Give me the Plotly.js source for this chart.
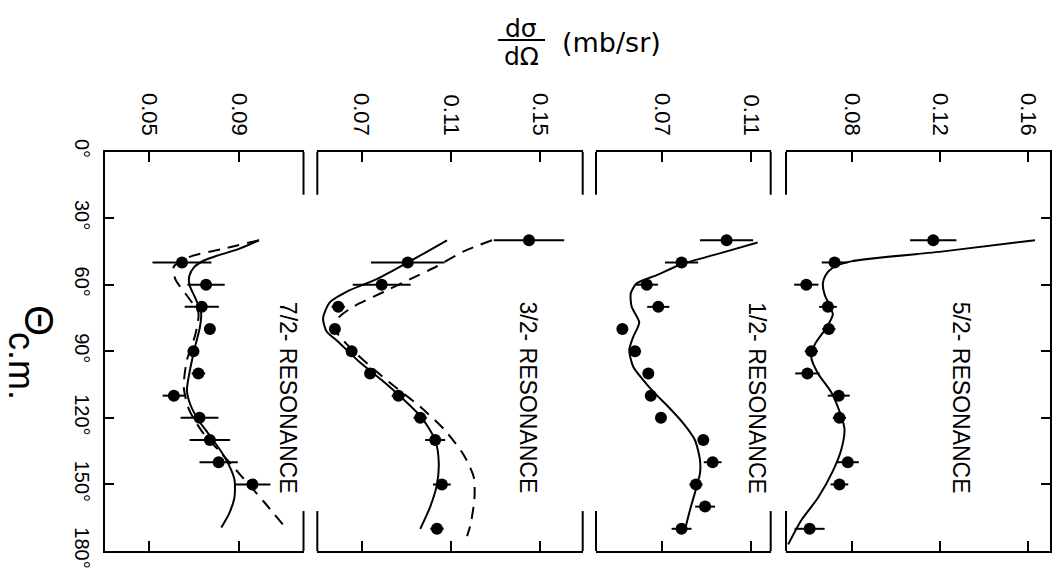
<!DOCTYPE html>
<html>
<head>
<meta charset="utf-8">
<script src="https://cdn.plot.ly/plotly-3.0.1.min.js"></script>
<style>
  html, body { margin: 0; padding: 0; background: #fff; }
  #chart { width: 1054px; height: 583px; }
</style>
</head>
<body>
<div id="chart"></div>
<script>
// Differential cross sections dσ/dΩ (mb/sr) versus centre-of-mass angle,
// compared with single-resonance fits (solid) and alternative fits (dashed).

// ---- angle axis ----
const angleTicks  = [0, 30, 60, 90, 120, 150, 180];
const angleLabels = ['0°', '30°', '60°', '90°', '120°', '150°', '180°'];

// ---- 5/2- resonance ----
const ticks52   = [0.08, 0.12, 0.16];
const angle52   = [40, 50, 60, 70, 80, 90, 100, 110, 120, 140, 150, 170];
const xs52      = [0.1169, 0.0722, 0.0594, 0.0692, 0.0696, 0.0617, 0.0599, 0.0741, 0.0744, 0.0782, 0.0744, 0.0609];
const err52     = [0.0105, 0.0058, 0.0055, 0.0040, 0.0030, 0.0030, 0.0055, 0.0050, 0.0030, 0.0050, 0.0040, 0.0068];
const fitAng52  = [40, 45, 49.5, 52.5, 56, 59.5, 64.5, 69, 73.5, 79.5, 87, 93, 100, 108.5, 117, 125, 134.5, 144, 156, 166, 177];
const fitVal52  = [0.163, 0.1215, 0.0797, 0.0712, 0.0680, 0.0669, 0.0677, 0.0698, 0.0714, 0.0684, 0.0632, 0.0617, 0.0647, 0.0707, 0.0744, 0.0767, 0.0752, 0.0714, 0.0647, 0.0572, 0.0512];

// ---- 1/2- resonance ----
const ticks12   = [0.07, 0.11];
const angle12   = [40, 50, 60, 70, 80, 90, 100, 110, 120, 130, 140, 150, 160, 170];
const xs12      = [0.0990, 0.0787, 0.0630, 0.0682, 0.0520, 0.0577, 0.0637, 0.0648, 0.0694, 0.0885, 0.0927, 0.0852, 0.0893, 0.0787];
const err12     = [0.0120, 0.0075, 0.0050, 0.0050, 0.0020, 0.0020, 0.0020, 0.0020, 0.0020, 0.0020, 0.0040, 0.0030, 0.0045, 0.0045];
const fitAng12  = [41, 46, 50.8, 55.7, 59.4, 63.9, 70, 77, 83.5, 89.5, 97, 103, 109, 115, 122.5, 130, 139, 145, 151, 161.5, 170.5];
const fitVal12  = [0.113, 0.0955, 0.0787, 0.0675, 0.0585, 0.0558, 0.0562, 0.0596, 0.0569, 0.0551, 0.0569, 0.0614, 0.0667, 0.0727, 0.0795, 0.0847, 0.0870, 0.0870, 0.0855, 0.0825, 0.0802];

// ---- 3/2- resonance ----
const ticks32   = [0.07, 0.11, 0.15];
const angle32   = [40, 50, 60, 70, 80, 90, 100, 110, 120, 130, 150, 170];
const xs32      = [0.1451, 0.0907, 0.0790, 0.0595, 0.0580, 0.0655, 0.0738, 0.0865, 0.0963, 0.1030, 0.1060, 0.1038];
const err32     = [0.0158, 0.0165, 0.0130, 0.0030, 0.0020, 0.0020, 0.0020, 0.0030, 0.0030, 0.0045, 0.0040, 0.0030];
const fitAng32  = [40, 50, 57.5, 62.5, 68, 75, 81, 85, 95, 103, 111, 120, 130, 140, 150, 160, 170];
const fitVal32  = [0.1083, 0.0907, 0.0768, 0.0647, 0.0557, 0.0527, 0.0542, 0.0587, 0.0692, 0.0790, 0.0880, 0.0970, 0.1030, 0.1046, 0.1038, 0.1008, 0.0963];
const altAng32  = [40, 45, 51.7, 57.5, 63.3, 70, 75, 80, 86.7, 96.7, 106.7, 115, 125, 136.7, 146.7, 156.7, 168.3, 173.3];
const altVal32  = [0.1285, 0.1158, 0.1038, 0.0918, 0.0798, 0.0662, 0.0595, 0.0580, 0.0632, 0.0738, 0.0858, 0.0963, 0.1068, 0.1158, 0.1203, 0.1206, 0.1188, 0.1173];

// ---- 7/2- resonance ----
const ticks72   = [0.05, 0.09];
const angle72   = [50, 60, 70, 80, 90, 100, 110, 120, 130, 140, 150];
const xs72      = [0.0645, 0.0752, 0.0733, 0.0769, 0.0696, 0.0718, 0.0609, 0.0723, 0.0769, 0.0808, 0.0958];
const err72     = [0.0131, 0.0083, 0.0076, 0.0020, 0.0020, 0.0030, 0.0050, 0.0084, 0.0090, 0.0085, 0.0080];
const fitAng72  = [40, 44, 47, 49, 52, 56, 60, 66, 72.6, 79, 87.6, 97.7, 107.7, 114, 121, 129, 137.7, 147.7, 156, 162.8, 169.4];
const fitVal72  = [0.0987, 0.0895, 0.0800, 0.0745, 0.0700, 0.0678, 0.0678, 0.0704, 0.0730, 0.0725, 0.0704, 0.0682, 0.0667, 0.0682, 0.0718, 0.0776, 0.0835, 0.0878, 0.0878, 0.0856, 0.0820];
const altAng72  = [40, 44, 47.6, 51.8, 57.6, 66, 72.6, 82.6, 94, 106, 116, 126, 136, 146, 157.8, 169.4];
const altVal72  = [0.0987, 0.0820, 0.0675, 0.0609, 0.0616, 0.0675, 0.0718, 0.0704, 0.0667, 0.0653, 0.0675, 0.0733, 0.0820, 0.0907, 0.1009, 0.1104];

const panelNames = ['7/2- RESONANCE', '3/2- RESONANCE', '1/2- RESONANCE', '5/2- RESONANCE'];

// ---- page geometry ----
const W = 1054, H = 583;
const fx = p => p / W;
const fy = p => 1 - p / H;
const yDomain = [fy(551), fy(151.5)];
const xDomains = [
  [fx(105), fx(303.5)],
  [fx(317.3), fx(582.7)],
  [fx(596), fx(770.7)],
  [fx(786), fx(1050)]
];
const xRanges = [
  [0.0303, 0.1185],
  [0.0501, 0.1692],
  [0.0401, 0.1189],
  [0.0502, 0.1698]
];
const tickSets = [ticks72, ticks32, ticks12, ticks52];

const INK = '#000';
const FONT = 'Liberation Sans, Arial, Helvetica, sans-serif';
const HEAD_FONT = 'DejaVu Sans, sans-serif';

function dataTrace(axisIdx, ang, vals, errs) {
  const s = axisIdx === 1 ? '' : String(axisIdx);
  return {
    type: 'scatter', mode: 'markers', x: vals, y: ang,
    xaxis: 'x' + s, yaxis: 'y' + s,
    marker: { size: 12, color: INK },
    error_x: { type: 'data', array: errs, visible: true, color: INK, thickness: 2, width: 0 },
    hoverinfo: 'skip', showlegend: false
  };
}
function curveTrace(axisIdx, ang, vals, dashed) {
  const s = axisIdx === 1 ? '' : String(axisIdx);
  return {
    type: 'scatter', mode: 'lines', x: vals, y: ang,
    xaxis: 'x' + s, yaxis: 'y' + s,
    line: { color: INK, width: 2, shape: 'spline', smoothing: 0.7, dash: dashed ? '12px,8px' : 'solid' },
    hoverinfo: 'skip', showlegend: false
  };
}

const traces = [
  curveTrace(1, altAng72, altVal72, true),
  curveTrace(1, fitAng72, fitVal72, false),
  dataTrace(1, angle72, xs72, err72),
  curveTrace(2, altAng32, altVal32, true),
  curveTrace(2, fitAng32, fitVal32, false),
  dataTrace(2, angle32, xs32, err32),
  curveTrace(3, fitAng12, fitVal12, false),
  dataTrace(3, angle12, xs12, err12),
  curveTrace(4, fitAng52, fitVal52, false),
  dataTrace(4, angle52, xs52, err52)
];

const layout = {
  width: W, height: H,
  margin: { l: 0, r: 0, t: 0, b: 0 },
  paper_bgcolor: '#fff', plot_bgcolor: 'rgba(0,0,0,0)',
  font: { family: FONT, color: INK },
  showlegend: false,
  shapes: [],
  annotations: []
};

for (let i = 0; i < 4; i++) {
  const s = i === 0 ? '' : String(i + 1);
  const ticks = tickSets[i];
  layout['xaxis' + s] = {
    domain: xDomains[i], range: xRanges[i], anchor: 'y' + s, side: 'top',
    showline: true, linewidth: 2, linecolor: INK, mirror: 'ticks',
    ticks: 'inside', ticklen: 10, tickwidth: 2, tickcolor: INK,
    tickvals: ticks, ticktext: ticks.map(v => v.toFixed(2)),
    tickangle: 90, tickfont: { size: 22, color: INK, family: FONT },
    ticklabelstandoff: 6,
    showgrid: false, zeroline: false, fixedrange: true
  };
  const ya = {
    domain: yDomain, range: [180, 0], anchor: 'x' + s,
    showgrid: false, zeroline: false, fixedrange: true
  };
  if (i === 0) {
    Object.assign(ya, {
      side: 'left', showline: true, linewidth: 2, linecolor: INK,
      ticks: 'inside', ticklen: 9, tickwidth: 2, tickcolor: INK,
      tickvals: angleTicks, ticktext: angleLabels,
      tickangle: 90, tickfont: { size: 20, color: INK, family: FONT },
      ticklabelstandoff: 4
    });
  } else if (i === 3) {
    Object.assign(ya, {
      side: 'right', showline: true, linewidth: 2, linecolor: INK,
      ticks: 'inside', ticklen: 9, tickwidth: 2, tickcolor: INK,
      tickvals: angleTicks.slice(1, -1), showticklabels: false
    });
  } else {
    Object.assign(ya, { showline: false, ticks: '', showticklabels: false });
  }
  layout['yaxis' + s] = ya;

  // short frame pieces on the inner sides of each panel
  const edges = [];
  if (i > 0) edges.push(0);
  if (i < 3) edges.push(1);
  edges.forEach(e => {
    [[0, 19.5], [162, 180]].forEach(seg => {
      layout.shapes.push({
        type: 'line', xref: 'x' + s + ' domain', yref: 'y' + s,
        x0: e, x1: e, y0: seg[0], y1: seg[1],
        line: { color: INK, width: 2 }
      });
    });
  });

  // panel caption
  const capX = [0.922, 0.795, 0.92, 0.663][i];
  layout.annotations.push({
    xref: 'x' + s + ' domain', yref: 'y' + s, x: capX, y: 111,
    text: panelNames[i], textangle: 90, showarrow: false,
    font: { size: 23, color: INK, family: FONT },
    xanchor: 'center', yanchor: 'middle'
  });
}

// quantity label at the top: dσ/dΩ (mb/sr)
layout.annotations.push(
  { xref: 'paper', yref: 'paper', x: fx(521), y: fy(29), text: 'dσ', showarrow: false,
    font: { size: 25, family: HEAD_FONT, color: INK }, xanchor: 'center', yanchor: 'middle' },
  { xref: 'paper', yref: 'paper', x: fx(521), y: fy(56), text: 'dΩ', showarrow: false,
    font: { size: 25, family: HEAD_FONT, color: INK }, xanchor: 'center', yanchor: 'middle' },
  { xref: 'paper', yref: 'paper', x: fx(611), y: fy(43), text: '(mb/sr)', showarrow: false,
    font: { size: 27, family: HEAD_FONT, color: INK }, xanchor: 'center', yanchor: 'middle' }
);
layout.shapes.push({
  type: 'line', xref: 'paper', yref: 'paper',
  x0: fx(498), x1: fx(545), y0: fy(40), y1: fy(40),
  line: { color: INK, width: 2 }
});

// angle label on the left: Θ c.m.
layout.annotations.push(
  { xref: 'paper', yref: 'paper', x: fx(39), y: fy(320), text: 'Θ', textangle: 90, showarrow: false,
    font: { size: 40, family: FONT, color: INK }, xanchor: 'center', yanchor: 'middle' },
  { xref: 'paper', yref: 'paper', x: fx(22), y: fy(366), text: 'c.m.', textangle: 90, showarrow: false,
    font: { size: 36, family: FONT, color: INK }, xanchor: 'center', yanchor: 'middle' }
);

Plotly.newPlot('chart', traces, layout, { displayModeBar: false, staticPlot: true });
</script>
</body>
</html>
